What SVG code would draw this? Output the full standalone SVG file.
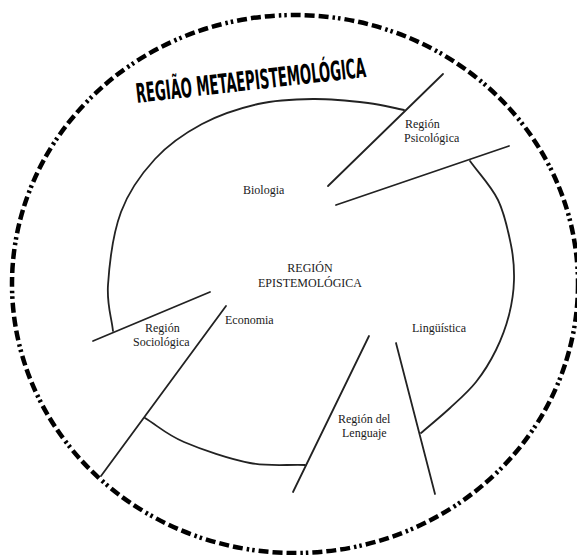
<svg xmlns="http://www.w3.org/2000/svg" width="577" height="555" viewBox="0 0 577 555">
<style>
.lbl{font-family:"Liberation Serif","DejaVu Serif","Times New Roman",serif;font-size:12px;fill:#1a1a1a}
.ln{stroke:#222;stroke-width:1.8;fill:none;stroke-linecap:round}
.title{font-family:"Liberation Sans Narrow","DejaVu Sans Condensed","Liberation Sans",sans-serif;font-weight:bold;font-size:27px;fill:#000}
</style>
<rect width="577" height="555" fill="#fff"/>
<g id="meta-region">
<ellipse cx="295" cy="284" rx="283" ry="269" fill="none" stroke="#000" stroke-width="4.5" stroke-dasharray="10 4 10 4 10 4 2.5 3 2.5 4"/>
<text class="title" transform="translate(137,103) rotate(-6.5)" textLength="231" lengthAdjust="spacingAndGlyphs">REGIÃO METAEPISTEMOLÓGICA</text>
</g>
<g id="epistemic-region">
<path class="ln" d="M113,331 C111.3,315.7 106.7,304.8 108,285 C109.3,265.2 113.2,233 121,212 C128.8,191 141.5,173.7 155,159 C168.5,144.3 184.8,133.2 202,124 C219.2,114.8 239.5,108.2 258,104 C276.5,99.8 294.7,99.2 313,99 C331.3,98.8 352.8,101.2 368,103 C383.2,104.8 392,107.7 404,110"/>
<path class="ln" d="M470,161 C479.3,174 491.2,186 498,200 C504.8,214 508.3,231.7 511,245 C513.7,258.3 514.3,268.3 514,280 C513.7,291.7 512,303.3 509,315 C506,326.7 501.5,338.8 496,350 C490.5,361.2 483.7,372.3 476,382 C468.3,391.7 459.2,399.5 450,408 C440.8,416.5 430.7,424.7 421,433"/>
<path class="ln" d="M305,465 C286.7,464.3 270.2,466.8 250,463 C229.8,459.2 201.5,449.5 184,442 C166.5,434.5 158,426 145,418"/>
<text class="lbl" x="310" y="272" text-anchor="middle">REGIÓN</text>
<text class="lbl" x="310" y="287" text-anchor="middle">EPISTEMOLÓGICA</text>
</g>
<g id="connectors">
<line class="ln" x1="443" y1="74" x2="328" y2="186"/>
<line class="ln" x1="509" y1="146" x2="336" y2="205"/>
<line class="ln" x1="210" y1="292" x2="93" y2="341"/>
<line class="ln" x1="226" y1="306" x2="101" y2="476"/>
<line class="ln" x1="369" y1="336" x2="293" y2="492"/>
<line class="ln" x1="396" y1="343" x2="435" y2="494"/>
</g>
<g id="biologia"><text class="lbl" x="243" y="194">Biologia</text></g>
<g id="region-psicologica">
<text class="lbl" x="405" y="128">Región</text>
<text class="lbl" x="404" y="142">Psicológica</text>
</g>
<g id="economia"><text class="lbl" x="225" y="324">Economia</text></g>
<g id="region-sociologica">
<text class="lbl" x="145" y="332">Región</text>
<text class="lbl" x="133" y="346">Sociológica</text>
</g>
<g id="linguistica"><text class="lbl" x="412" y="332">Lingüística</text></g>
<g id="region-lenguaje">
<text class="lbl" x="338" y="423">Región del</text>
<text class="lbl" x="342" y="437">Lenguaje</text>
</g>
</svg>
